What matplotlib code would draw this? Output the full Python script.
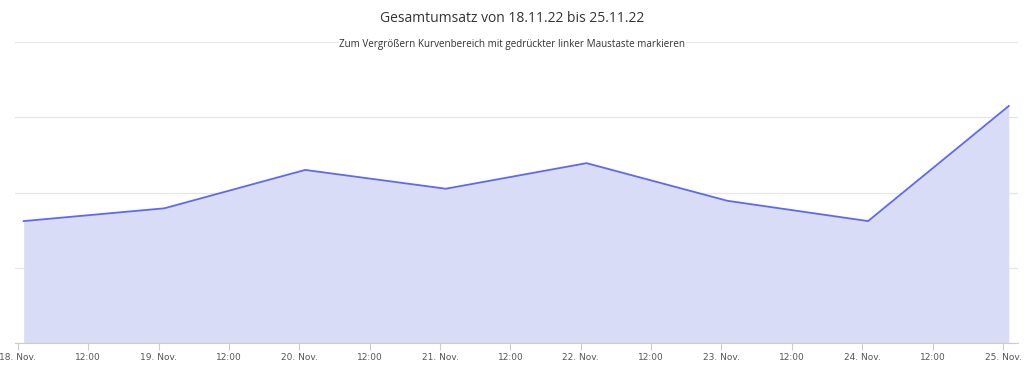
import numpy as np
import matplotlib
matplotlib.use("Agg")
import matplotlib.pyplot as plt
import matplotlib.dates as mdates
from datetime import datetime, timedelta

# data (y in grid units)
days = [datetime(2022, 11, d, 1) for d in range(18, 26)]
umsatz = [1.62, 1.79, 2.30, 2.05, 2.39, 1.89, 1.62, 3.15]

tick_times = [datetime(2022, 11, 18) + timedelta(hours=12 * i) for i in range(15)]
tick_labels = []
for t in tick_times:
    tick_labels.append("12:00" if t.hour == 12 else f"{t.day}. Nov.")

fig = plt.figure(figsize=(10.24, 3.83), dpi=100)
ax = fig.add_axes([15 / 1024, 40 / 383, 1003 / 1024, 301 / 383])

x = mdates.date2num(days)
ax.fill_between(x, umsatz, 0, color="#d8dcf6", lw=0)
ax.plot(x, umsatz, color="#6068ec", lw=1.3)

x0 = mdates.date2num(datetime(2022, 11, 18))
ax.set_xlim(x0 - 0.02, x0 + 7.107)
ax.set_ylim(0, 4)
ax.set_yticks([0, 1, 2, 3, 4])
ax.set_yticklabels([])
ax.tick_params(axis="y", length=0)
ax.grid(axis="y", color="#e6e6e6", lw=0.9)
ax.set_axisbelow(True)

ax.set_xticks(mdates.date2num(tick_times))
ax.set_xticklabels(tick_labels, fontsize=6.5, color="#555555", family="DejaVu Sans")
ax.tick_params(axis="x", length=5, color="#cccccc", pad=2)

for s in ["top", "right", "left"]:
    ax.spines[s].set_visible(False)
ax.spines["bottom"].set_color("#cccccc")

fig.text(0.5, 1 - 18 / 383, "Gesamtumsatz von 18.11.22 bis 25.11.22",
         ha="center", va="center", fontsize=10, color="#333333", family="Open Sans")
fig.text(0.5, 1 - 44 / 383, "Zum Vergrößern Kurvenbereich mit gedrückter linker Maustaste markieren",
         ha="center", va="center", fontsize=7.1, color="#333333", family="Open Sans",
         bbox=dict(facecolor="white", edgecolor="none", pad=1))

plt.savefig("out.png", dpi=100)
